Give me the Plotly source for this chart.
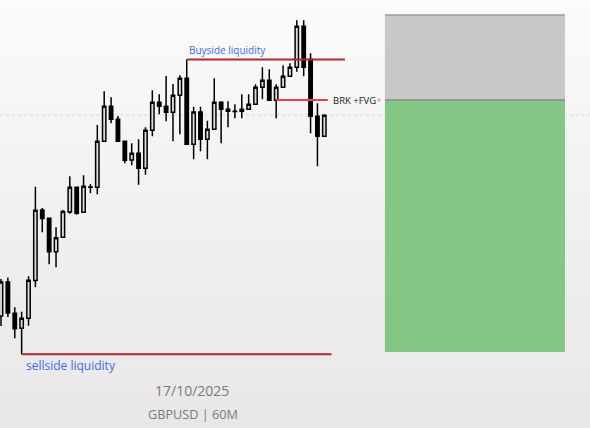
import plotly.graph_objects as go

# ---- data (GBPUSD 60M candles) ----
idx = list(range(48))
opens = [1.33316, 1.33452, 1.33327, 1.33267, 1.33307, 1.33458, 1.33740, 1.33707, 1.33573, 1.33631,
         1.33732, 1.33831, 1.33731, 1.33832, 1.33831, 1.34015, 1.34155, 1.34103, 1.34015, 1.33940,
         1.33967, 1.33907, 1.34059, 1.34171, 1.34155, 1.34131, 1.34199, 1.34267, 1.34003, 1.34132,
         1.34023, 1.34063, 1.34171, 1.34143, 1.34135, 1.34135, 1.34143, 1.34163, 1.34231, 1.34259,
         1.34179, 1.34231, 1.34275, 1.34311, 1.34475, 1.34343, 1.34115, 1.34035]
highs = [1.33464, 1.33470, 1.33351, 1.33333, 1.33475, 1.33833, 1.33748, 1.33708, 1.33671, 1.33740,
         1.33875, 1.33832, 1.33879, 1.33844, 1.34080, 1.34215, 1.34191, 1.34116, 1.34016, 1.34007,
         1.34023, 1.34071, 1.34219, 1.34203, 1.34276, 1.34244, 1.34279, 1.34342, 1.34153, 1.34153,
         1.34097, 1.34267, 1.34175, 1.34175, 1.34163, 1.34203, 1.34203, 1.34243, 1.34311, 1.34303,
         1.34243, 1.34319, 1.34327, 1.34499, 1.34499, 1.34367, 1.34167, 1.34123]
lows = [1.33276, 1.33312, 1.33227, 1.33163, 1.33277, 1.33431, 1.33651, 1.33523, 1.33511, 1.33628,
        1.33725, 1.33721, 1.33728, 1.33807, 1.33803, 1.34014, 1.34087, 1.34014, 1.33927, 1.33919,
        1.33841, 1.33881, 1.34035, 1.34123, 1.34095, 1.34015, 1.34043, 1.34002, 1.33943, 1.33975,
        1.33943, 1.34062, 1.34007, 1.34071, 1.34107, 1.34107, 1.34142, 1.34162, 1.34183, 1.34178,
        1.34107, 1.34230, 1.34274, 1.34293, 1.34275, 1.34047, 1.33915, 1.34034]
closes = [1.33452, 1.33328, 1.33265, 1.33307, 1.33459, 1.33739, 1.33706, 1.33573, 1.33629, 1.33734,
          1.33831, 1.33727, 1.33835, 1.33831, 1.34015, 1.34155, 1.34103, 1.34015, 1.33939, 1.33967,
          1.33907, 1.34059, 1.34171, 1.34155, 1.34131, 1.34199, 1.34267, 1.34003, 1.34132, 1.34023,
          1.34063, 1.34171, 1.34143, 1.34135, 1.34134, 1.34143, 1.34163, 1.34231, 1.34259, 1.34179,
          1.34231, 1.34275, 1.34311, 1.34475, 1.34311, 1.34115, 1.34035, 1.34119]

buyside_level = 1.34342
fvg_level = 1.34180
sellside_level = 1.33163
mid_level = 1.34120
zone_top = 1.34520
zone_entry = 1.34180
zone_bottom = 1.33172

date_label = "17/10/2025"
symbol_label = "GBPUSD | 60M"

W, H = 590, 428
x_lo, x_hi = -0.1454, 85.62
y_lo, y_hi = 1.32868, 1.34580

fig = go.Figure()
fig.add_trace(go.Candlestick(
    x=idx, open=opens, high=highs, low=lows, close=closes,
    increasing=dict(fillcolor="#dddddd", line=dict(color="#000000", width=1.5)),
    decreasing=dict(fillcolor="#000000", line=dict(color="#000000", width=1.5)),
    whiskerwidth=0, showlegend=False, hoverinfo="skip",
))

# pink marker after label
fig.add_trace(go.Scatter(x=[54.95], y=[fvg_level], mode="markers",
                         marker=dict(color="#f4a0a8", size=3, symbol="square"),
                         showlegend=False, hoverinfo="skip"))

shapes = []
# gradient background
top = (251, 251, 251)
bot = (232, 230, 230)
N = 40
for k in range(N):
    t = (k + 0.5) / N
    c = tuple(round(top[j] + (bot[j] - top[j]) * t) for j in range(3))
    shapes.append(dict(type="rect", xref="paper", yref="paper", x0=0, x1=1,
                       y0=1 - (k + 1) / N, y1=1 - k / N, layer="below",
                       fillcolor="rgb(%d,%d,%d)" % c, line=dict(width=0)))
# dotted mid line
shapes.append(dict(type="line", xref="paper", yref="y", x0=0, x1=1, y0=mid_level, y1=mid_level,
                   line=dict(color="#dadada", width=1, dash="dot"), layer="below"))
# position zones
shapes.append(dict(type="rect", xref="x", yref="y", x0=55.81, x1=81.98, y0=zone_entry, y1=zone_top,
                   fillcolor="#c8c8c8", line=dict(width=0)))
shapes.append(dict(type="rect", xref="x", yref="y", x0=55.81, x1=81.98, y0=zone_bottom, y1=zone_entry,
                   fillcolor="#84c684", line=dict(width=0)))
shapes.append(dict(type="line", xref="x", yref="y", x0=55.81, x1=81.98, y0=zone_top, y1=zone_top,
                   line=dict(color="#9a9a9a", width=1.5)))
shapes.append(dict(type="line", xref="x", yref="y", x0=55.81, x1=81.98, y0=zone_entry, y1=zone_entry,
                   line=dict(color="#8a8a8a", width=1.5)))
# liquidity lines
shapes.append(dict(type="line", xref="x", yref="y", x0=27, x1=50.0, y0=buyside_level, y1=buyside_level,
                   line=dict(color="#b3262f", width=2)))
shapes.append(dict(type="line", xref="x", yref="y", x0=40, x1=47.5, y0=fvg_level, y1=fvg_level,
                   line=dict(color="#ee3c48", width=2)))
shapes.append(dict(type="line", xref="x", yref="y", x0=3, x1=48.05, y0=sellside_level, y1=sellside_level,
                   line=dict(color="#b3262f", width=2)))

annotations = [
    dict(x=27.1, y=buyside_level, xref="x", yref="y", text="Buyside liquidity", showarrow=False,
         xanchor="left", yanchor="bottom", yshift=1, font=dict(family="Open Sans", size=10, color="#3b6cf0")),
    dict(x=48.0, y=fvg_level, xref="x", yref="y", text="BRK +FVG", showarrow=False,
         xanchor="left", yanchor="middle", font=dict(family="Open Sans", size=9.5, color="#222222")),
    dict(x=3.3, y=sellside_level, xref="x", yref="y", text="sellside liquidity", showarrow=False,
         xanchor="left", yanchor="top", yshift=-1, font=dict(family="Open Sans", size=12, color="#3b6cf0")),
    dict(x=192 / W, y=1 - 390 / H, xref="paper", yref="paper", text=date_label, showarrow=False,
         xanchor="center", yanchor="middle", font=dict(family="Open Sans", size=14, color="#7a7a7a")),
    dict(x=193 / W, y=1 - 414 / H, xref="paper", yref="paper", text=symbol_label, showarrow=False,
         xanchor="center", yanchor="middle", font=dict(family="Open Sans", size=12.7, color="#7a7a7a")),
]

fig.update_layout(
    width=W, height=H, margin=dict(l=0, r=0, t=0, b=0),
    paper_bgcolor="#f2f1f1", plot_bgcolor="rgba(0,0,0,0)",
    shapes=shapes, annotations=annotations,
    xaxis=dict(range=[x_lo, x_hi], visible=False, rangeslider=dict(visible=False), fixedrange=True),
    yaxis=dict(range=[y_lo, y_hi], visible=False, fixedrange=True),
    showlegend=False,
)
fig.write_html("out.html", config=dict(displayModeBar=False),
               post_script="document.body.style.margin='0';document.body.style.overflow='hidden';")
